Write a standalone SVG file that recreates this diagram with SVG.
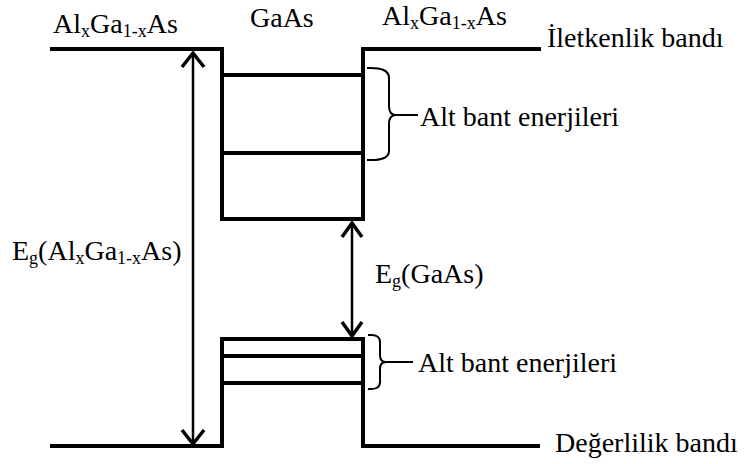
<svg xmlns="http://www.w3.org/2000/svg" width="750" height="464" viewBox="0 0 750 464">
<style>
.band{fill:none;stroke:#000;stroke-width:4;stroke-linejoin:miter}
.arr{fill:none;stroke:#000;stroke-width:2.5}
.head{fill:none;stroke:#000;stroke-width:3.5;stroke-linecap:butt;stroke-linejoin:miter}
.brace{fill:none;stroke:#000;stroke-width:2}
</style>
<rect width="750" height="464" fill="#fff"/>
<g id="conduction-band">
<path class="band" d="M50,49 H222 V219 H363 V49 H541"/>
<line class="band" x1="222" y1="75" x2="363" y2="75"/>
<line class="band" x1="222" y1="153" x2="363" y2="153"/>
</g>
<g id="valence-band">
<path class="band" d="M50,446 H222 V339 H363 V446 H540"/>
<line class="band" x1="222" y1="356" x2="363" y2="356"/>
<line class="band" x1="222" y1="383" x2="363" y2="383"/>
</g>
<g id="connectors">
<line class="arr" x1="193" y1="53" x2="193" y2="444"/>
<path class="head" d="M182,67 L193,53 L204,67"/>
<path class="head" d="M182,430 L193,444 L204,430"/>
<line class="arr" x1="352" y1="223" x2="352" y2="336"/>
<path class="head" d="M342,237 L352,223 L362,237"/>
<path class="head" d="M342,322 L352,336 L362,322"/>
<path class="brace" d="M367,68 Q389,67 389,78 L389,106 Q389,115 396,115 Q389,115 389,124 L389,151 Q389,161 367,160"/>
<line class="brace" x1="396" y1="115" x2="418" y2="115"/>
<path class="brace" d="M368,335 Q380,334 380,342 L380,355 Q380,362 386,362 Q380,362 380,369 L380,382 Q380,390 368,389"/>
<line class="brace" x1="386" y1="362" x2="413" y2="362"/>
</g>
<g id="label-algaas-left"><text font-family="'Liberation Serif', 'Times New Roman', serif" font-size="28" x="53" y="33">Al<tspan font-size="18" dy="4">x</tspan><tspan dy="-4">Ga</tspan><tspan font-size="18" dy="4">1-x</tspan><tspan dy="-4">As</tspan></text></g>
<g id="label-gaas"><text font-family="'Liberation Serif', 'Times New Roman', serif" font-size="28" x="250" y="27">GaAs</text></g>
<g id="label-algaas-right"><text font-family="'Liberation Serif', 'Times New Roman', serif" font-size="28" x="382" y="25">Al<tspan font-size="18" dy="4">x</tspan><tspan dy="-4">Ga</tspan><tspan font-size="18" dy="4">1-x</tspan><tspan dy="-4">As</tspan></text></g>
<g id="label-iletkenlik"><text font-family="'Liberation Serif', 'Times New Roman', serif" font-size="28" x="547" y="47">İletkenlik bandı</text></g>
<g id="label-altbant-1"><text font-family="'Liberation Serif', 'Times New Roman', serif" font-size="28" x="420" y="126">Alt bant enerjileri</text></g>
<g id="label-altbant-2"><text font-family="'Liberation Serif', 'Times New Roman', serif" font-size="28" x="418" y="372">Alt bant enerjileri</text></g>
<g id="label-eg-algaas"><text font-family="'Liberation Serif', 'Times New Roman', serif" font-size="28" x="12" y="260">E<tspan font-size="18" dy="4">g</tspan><tspan dy="-4">(Al</tspan><tspan font-size="18" dy="4">x</tspan><tspan dy="-4">Ga</tspan><tspan font-size="18" dy="4">1-x</tspan><tspan dy="-4">As)</tspan></text></g>
<g id="label-eg-gaas"><text font-family="'Liberation Serif', 'Times New Roman', serif" font-size="28" x="375" y="283">E<tspan font-size="18" dy="4">g</tspan><tspan dy="-4">(GaAs)</tspan></text></g>
<g id="label-degerlilik"><text font-family="'Liberation Serif', 'Times New Roman', serif" font-size="28" x="555" y="452">Değerlilik bandı</text></g>
</svg>
